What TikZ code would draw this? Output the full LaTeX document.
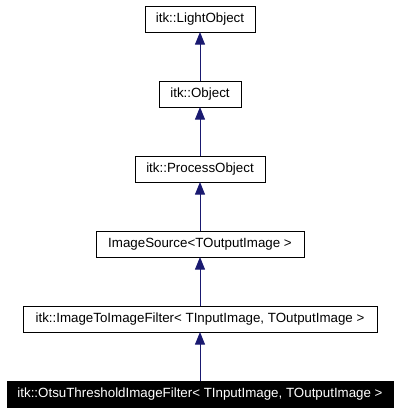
\documentclass[tikz,border=0pt]{standalone}
\usepackage{fontspec}
\setmainfont{Liberation Sans}
\usepackage{tikz}
\usetikzlibrary{shapes,arrows.meta,calc,positioning}
\definecolor{edgeblue}{RGB}{25,25,112}
\tikzstyle{block} =[rectangle, draw, line width=0.75pt, text centered, inner sep=0pt, outer sep=0pt,
minimum height = 19.5pt, font=\fontsize{10pt}{12pt}\selectfont]
\tikzstyle{current} =[block, fill=black, text=white]
\tikzstyle{line} =[draw, edgeblue, line width=0.75pt, -{Triangle[width=7.5pt,length=9.5pt]}]

\begin{document}
\begin{tikzpicture}[node distance = 36.75pt]
\useasboundingbox (0,0) rectangle (300pt,-308.25pt);

\node [block, minimum width=82.5pt, anchor=north] (light) at (150pt,-4.5pt) {itk::LightObject};
\node [block, minimum width=61.5pt, below = of light] (object) {itk::Object};
\node [block, minimum width=97.5pt, below = of object] (process) {itk::ProcessObject};
\node [block, minimum width=156pt, below = of process] (source) {ImageSource<TOutputImage >};
\node [block, minimum width=265.5pt, below = of source] (filter) {itk::ImageToImageFilter< TInputImage, TOutputImage >};
\node [current, minimum width=289.5pt, below = of filter] (otsu) {itk::OtsuThresholdImageFilter< TInputImage, TOutputImage >};
\path [line] (object) -- (light);
\path [line] (process) -- (object);
\path [line] (source) -- (process);
\path [line] (filter) -- (source);
\path [line] (otsu) -- (filter);
\end{tikzpicture}
\end{document}
